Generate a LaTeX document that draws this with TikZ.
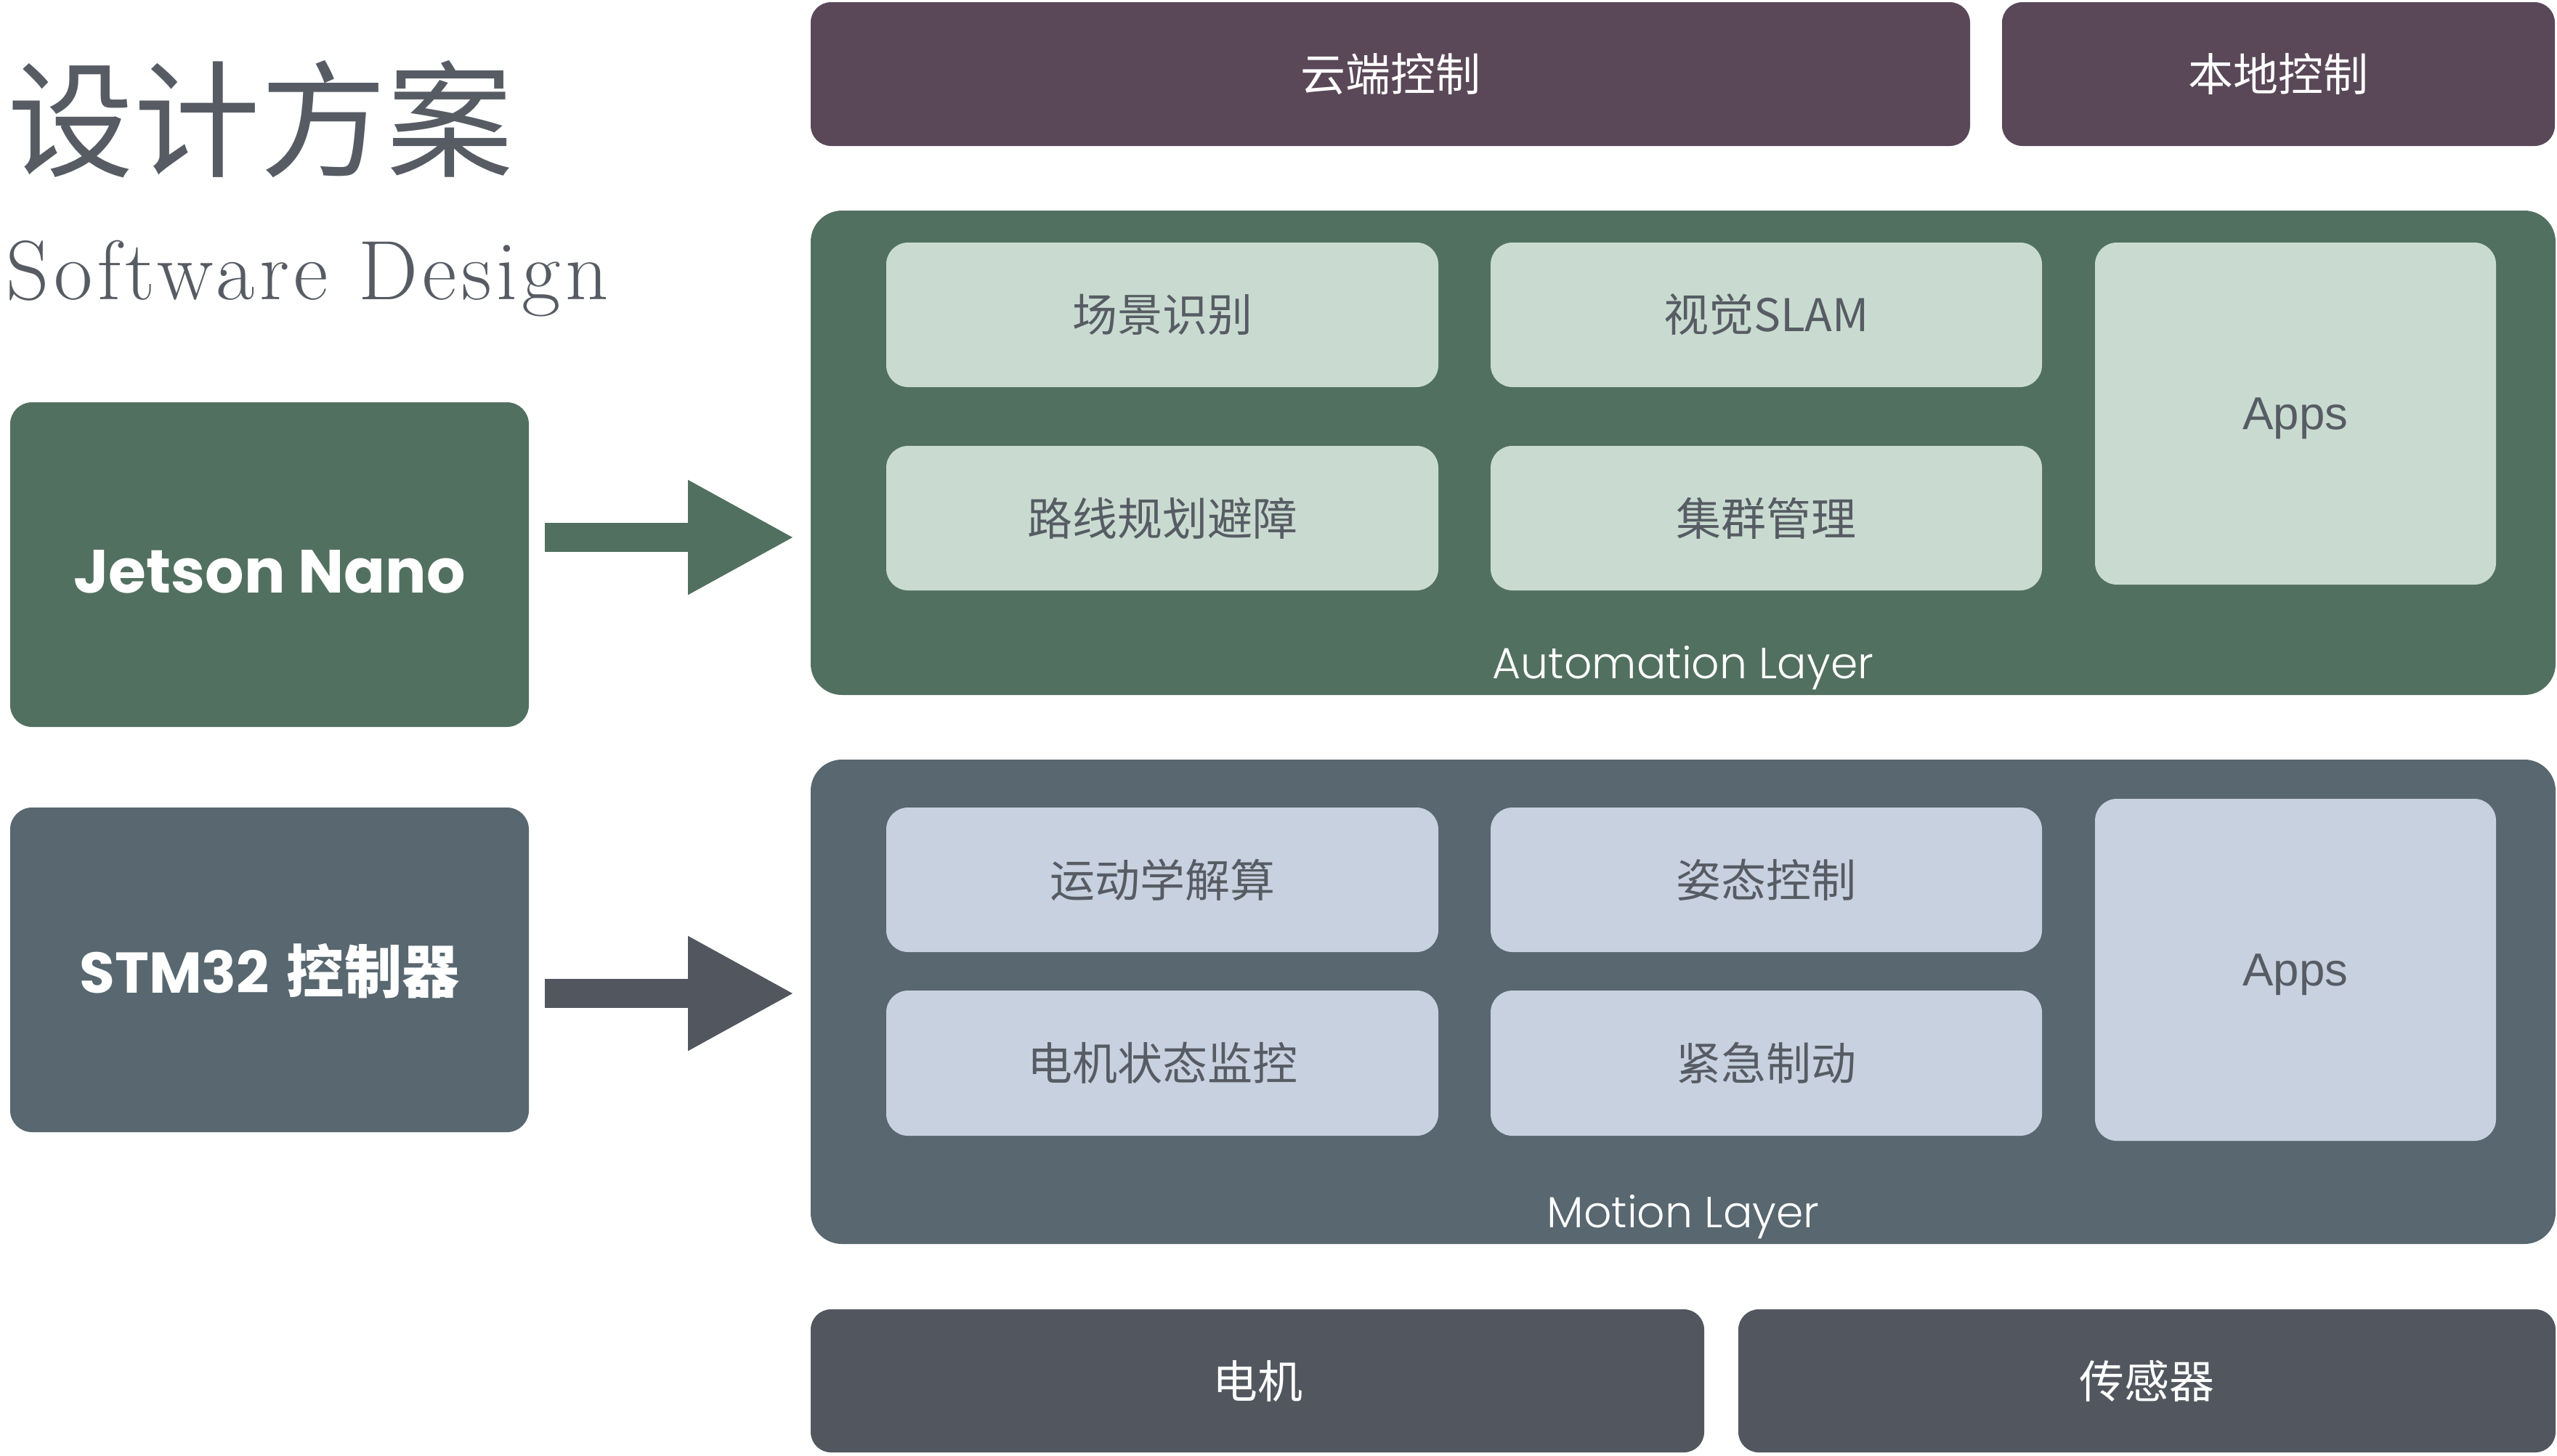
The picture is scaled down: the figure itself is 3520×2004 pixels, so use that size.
\documentclass[tikz,border=0pt]{standalone}
\usepackage{fontspec}
\usetikzlibrary{arrows.meta}
\newfontfamily\cjk{Noto Sans CJK SC}
\newfontfamily\popl{Poppins Light}
\newfontfamily\popb{Poppins Bold}
\newfontfamily\appsf{Liberation Sans}
\newfontfamily\subf{Latin Modern Roman}[LetterSpace=5.5]
\definecolor{purp}{HTML}{5A4858}
\definecolor{grn}{HTML}{527060}
\definecolor{lgrn}{HTML}{C9DBD0}
\definecolor{slate}{HTML}{586770}
\definecolor{lblue}{HTML}{C8D1DF}
\definecolor{dgray}{HTML}{52575F}
\definecolor{txt}{HTML}{575C64}
\newcommand\cn{\cjk\fontsize{15.5pt}{18pt}\selectfont}
\newcommand\mybox[7]{\node[blk,#6,minimum width={(#4-#2)*0.25pt},minimum height={(#5-#3)*0.25pt}] (#1) at ({(#2+#4)/2},{(#3+#5)/2}) {#7};}
\tikzset{
  blk/.style={inner sep=0pt, outer sep=0pt, rounded corners=7.5pt, anchor=center},
  bar/.style={text=white, font=\cn, rounded corners=7pt},
  layer/.style={rounded corners=10.75pt},
  inner/.style={text=txt, font=\cn},
  appsbox/.style={text=txt, text depth=0pt, font=\appsf\fontsize{15.9pt}{18pt}\selectfont},
  layerlbl/.style={text=white, font=\popl\fontsize{15pt}{18pt}\selectfont, inner sep=0pt, anchor=base},
  side/.style={rounded corners=7.5pt},
  sidelbl/.style={text=white, inner sep=0pt, anchor=center},
  fat/.style={line width=10pt, -{Triangle[length=36.75pt,width=36.75pt]}},
}
\begin{document}
\begin{tikzpicture}[x=0.25pt,y=-0.25pt]
\useasboundingbox (0,0) rectangle (3520,2004);
\fill[white] (0,0) rectangle (3520,2004);

% titles
\node[anchor=west, text=txt, inner sep=0pt, font=\cjk\fontsize{43.5pt}{50pt}\selectfont] (title) at (10,164) {设计方案};
\node[anchor=base west, text=txt, inner sep=0pt, font=\subf\fontsize{29pt}{34pt}\selectfont] (sub) at (8,412) {Software Design};

% top bars
\mybox{cloud}{1116}{3}{2712}{201}{bar, fill=purp}{云端控制}
\mybox{local}{2756}{3}{3517}{201}{bar, fill=purp}{本地控制}

% automation layer
\mybox{auto}{1116}{290}{3518}{957}{layer, fill=grn}{}
\mybox{a1}{1220}{334}{1980}{533}{inner, fill=lgrn}{场景识别}
\mybox{a2}{2052}{334}{2811}{533}{inner, fill=lgrn}{视觉SLAM}
\mybox{a3}{1220}{614}{1980}{813}{inner, fill=lgrn}{路线规划避障}
\mybox{a4}{2052}{614}{2811}{813}{inner, fill=lgrn}{集群管理}
\mybox{aapps}{2884}{334}{3436}{805}{appsbox, fill=lgrn}{Apps}
\node[layerlbl] (autol) at (2317,934) {Automation Layer};

% motion layer
\mybox{mot}{1116}{1046}{3518}{1713}{layer, fill=slate}{}
\mybox{m1}{1220}{1112}{1980}{1311}{inner, fill=lblue}{运动学解算}
\mybox{m2}{2052}{1112}{2811}{1311}{inner, fill=lblue}{姿态控制}
\mybox{m3}{1220}{1364}{1980}{1564}{inner, fill=lblue}{电机状态监控}
\mybox{m4}{2052}{1364}{2811}{1564}{inner, fill=lblue}{紧急制动}
\mybox{mapps}{2884}{1100}{3436}{1571}{appsbox, fill=lblue}{Apps}
\node[layerlbl] (motl) at (2317,1690) {Motion Layer};

% bottom bars
\mybox{motor}{1116}{1803}{2346}{2000}{bar, fill=dgray}{电机}
\mybox{sensor}{2393}{1803}{3518}{2000}{bar, fill=dgray}{传感器}

% side boxes
\mybox{jet}{14}{554}{728}{1001}{side, fill=grn}{}
\node[sidelbl, font=\popb\fontsize{21pt}{24pt}\selectfont] (jett) at (371,787) {Jetson Nano};
\mybox{stm}{14}{1112}{728}{1559}{side, fill=slate}{}
\node[sidelbl, font=\fontsize{19.8pt}{23pt}\selectfont] (stmt) at (371,1337) {{\popb STM32} {\cjk\bfseries 控制器}};

% arrows
\coordinate (a1s) at (750,740);
\coordinate (a1e) at (1094,740);
\draw[fat, draw=grn, fill=grn] (a1s) -- (a1e);
\coordinate (a2s) at (750,1368);
\coordinate (a2e) at (1094,1368);
\draw[fat, draw=dgray, fill=dgray] (a2s) -- (a2e);
\end{tikzpicture}
\end{document}
